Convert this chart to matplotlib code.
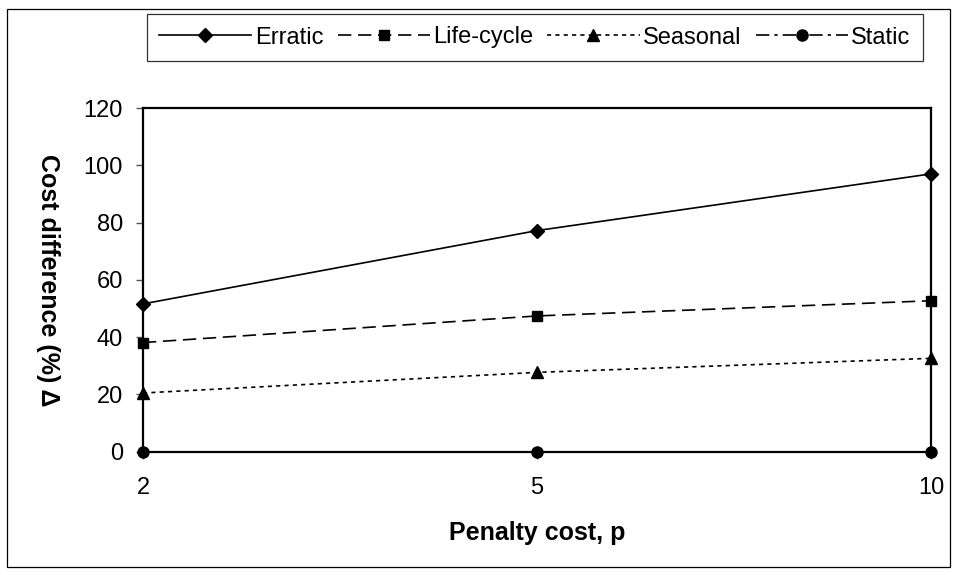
import matplotlib
matplotlib.use("Agg")
import matplotlib.pyplot as plt
from matplotlib.patches import Rectangle

plt.rcParams['font.family'] = ['Liberation Sans', 'DejaVu Sans']

categories = ["2", "5", "10"]
erratic = [51.6, 77.2, 97.0]
life_cycle = [38.1, 47.4, 52.7]
seasonal = [20.5, 27.7, 32.6]
static = [0.0, 0.0, 0.0]
series_names = ["Erratic", "Life-cycle", "Seasonal", "Static"]
y_ticks = [0, 20, 40, 60, 80, 100, 120]

W, H = 956, 575
fig = plt.figure(figsize=(W / 100, H / 100), dpi=100)

# outer border
fig.patches.append(Rectangle((7 / W, 1 - 567 / H), (950 - 7) / W, (567 - 9) / H,
                             transform=fig.transFigure, fill=False,
                             edgecolor='black', linewidth=0.9))

left, right, top, bottom = 143, 931, 108, 451.7
ax = fig.add_axes([left / W, 1 - bottom / H, (right - left) / W, (bottom - top) / H])

x = list(range(len(categories)))
lw = 1.2
ax.plot(x, erratic, color='black', lw=lw, linestyle='-', marker='D', ms=7.5,
        label=series_names[0], clip_on=False, zorder=5)
ax.plot(x, life_cycle, color='black', lw=lw, linestyle=(0, (8, 4)), marker='s', ms=7.5,
        label=series_names[1], clip_on=False, zorder=5)
ax.plot(x, seasonal, color='black', lw=lw, linestyle=(0, (2.5, 2.5)), marker='^', ms=8.5,
        label=series_names[2], clip_on=False, zorder=5)
ax.plot(x, static, color='black', lw=lw, linestyle=(0, (8, 3, 2, 3)), marker='o', ms=8,
        label=series_names[3], clip_on=False, zorder=5)

ax.set_xlim(0, len(categories) - 1)
ax.set_ylim(0, 120)
ax.set_xticks(x)
ax.set_xticklabels(categories)
ax.set_yticks(y_ticks)
ax.tick_params(axis='both', labelsize=17, length=5, width=1, color='#555555',
               direction='out')
ax.tick_params(axis='x', pad=13)
ax.tick_params(axis='y', pad=9.5)
for s in ax.spines.values():
    s.set_linewidth(1.6)
    s.set_color('black')

ax.set_xlabel("Penalty cost, p", fontsize=18, fontweight='bold', labelpad=16)
ax.set_ylabel("Cost difference (%) Δ", fontsize=18, fontweight='bold',
              rotation=-90, labelpad=14, va='center')
ax.yaxis.set_label_coords(48 / W, 0.5, transform=fig.transFigure)
ax.yaxis.label.set_position((48 / W, 1 - 280 / H))

leg = fig.legend(loc='center', bbox_to_anchor=(535 / W, 1 - 37.5 / H), ncol=4,
                 fontsize=17, frameon=True, fancybox=False, edgecolor='black',
                 handlelength=3.9, handletextpad=0.15, columnspacing=0.6,
                 borderpad=0.52, borderaxespad=0)
leg.get_frame().set_linewidth(0.9)

fig.savefig("out.png", dpi=100)
